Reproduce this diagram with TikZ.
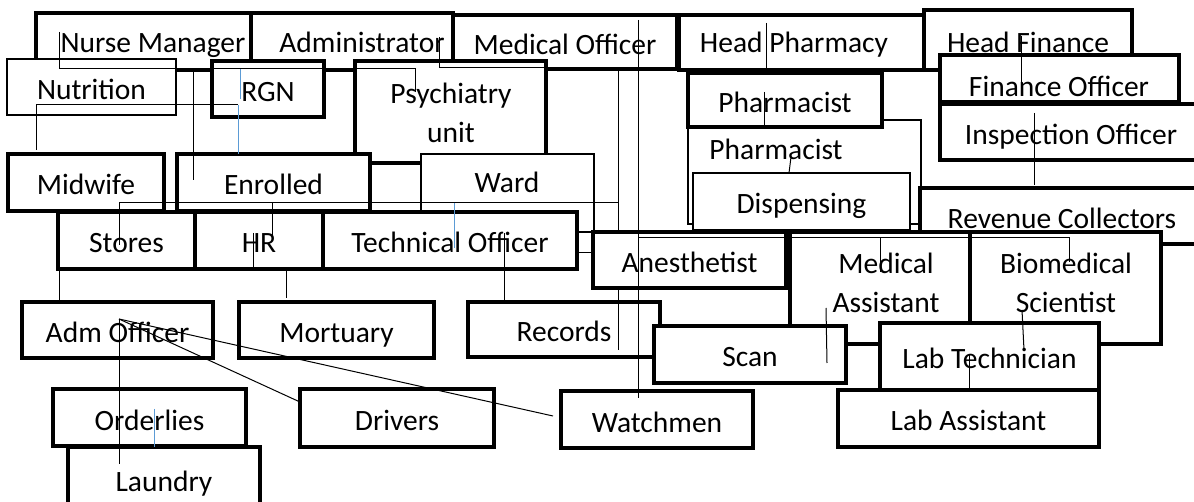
\documentclass[tikz,border=0pt]{standalone}
\usepackage{fontspec}
\setmainfont{Carlito}
\definecolor{wireblue}{RGB}{91,155,213}
\newcommand\chartfont{\fontsize{29.5}{39}\selectfont}
\tikzset{
  staff/.style={draw, fill=white, line width=4.5pt, inner sep=0pt, font=\chartfont},
  post/.style={staff, text height=25pt, text depth=0pt},
  thinpost/.style={post, line width=2pt},
  postlabel/.style={inner sep=0pt, font=\chartfont, text height=19pt, text depth=0pt},
  postpair/.style={inner sep=0pt, font=\chartfont, align=center},
  wire/.style={line width=1pt},
  bluewire/.style={wire, draw=wireblue},
}

\begin{document}
\begin{tikzpicture}[x=1pt, y=-1pt]
    \useasboundingbox (0,0) rectangle (1194,502);

    % Heads
    \node [post, minimum width=215pt, minimum height=57pt] (nurse) at (143.5,41.5) {};
    \node [postlabel] (nurse-t) at (153,43) {Nurse Manager};
    \node [post, minimum width=202pt, minimum height=57pt] (admin) at (352,41.5) {};
    \node [postlabel] (admin-t) at (362,43) {Administrator};
    \node [post, minimum width=224pt, minimum height=54pt] (medoff) at (565,42) {Medical Officer};
    \node [post, minimum width=245pt, minimum height=55pt] (headph) at (801.5,42.5) {};
    \node [postlabel] (headph-t) at (794,43) {Head Pharmacy};
    \node [post, minimum width=208pt, minimum height=60pt] (headfin) at (1028,40) {Head Finance};

    % Second row
    \node [thinpost, minimum width=169pt, minimum height=56pt] (nutr) at (91.5,87) {Nutrition};
    \node [post, minimum width=112pt, minimum height=56pt] (rgn) at (268,89) {RGN};
    \node [staff, minimum width=191pt, minimum height=102pt] (psych) at (450.5,112) {};
    \node [postpair] (psych-t) at (451,112.5) {Psychiatry\\unit};
    \node [thinpost, minimum width=233pt, minimum height=104pt] (pharmb) at (804.5,172) {};
    \node [postlabel] (pharmb-t) at (776,150) {Pharmacist};
    \node [post, minimum width=194pt, minimum height=54pt] (pharm) at (785,100) {Pharmacist};
    \node [post, minimum width=239pt, minimum height=47pt] (finoff) at (1059.5,78.5) {};
    \node [postlabel] (finoff-t) at (1059,87) {Finance Officer};
    \node [post, minimum width=262pt, minimum height=56pt] (inspect) at (1071,132) {Inspection Officer};
    \node [thinpost, minimum width=217pt, minimum height=57pt] (disp) at (801.5,201.5) {Dispensing};
    \node [post, minimum width=284pt, minimum height=56pt] (revenue) at (1062,216) {Revenue Collectors};

    % Third row
    \node [post, minimum width=156pt, minimum height=57pt] (midwife) at (86,182.5) {Midwife};
    \node [post, minimum width=193pt, minimum height=57pt] (enrolled) at (273.5,182.5) {Enrolled};
    \node [thinpost, minimum width=173pt, minimum height=78pt] (ward) at (507.5,193) {};
    \node [postlabel] (ward-t) at (507,183) {Ward};
    \node [post, minimum width=137pt, minimum height=57pt] (stores) at (126.5,240.5) {Stores};
    \node [post, minimum width=128pt, minimum height=57pt] (hr) at (259,240.5) {HR};
    \node [post, minimum width=254pt, minimum height=57pt] (techoff) at (450,240.5) {Technical Officer};

    % Fourth row
    \node [post, minimum width=191pt, minimum height=56pt] (admoff) at (117.5,330) {Adm Officer};
    \node [post, minimum width=195pt, minimum height=56pt] (mortuary) at (336.5,330) {Mortuary};
    \node [post, minimum width=192pt, minimum height=55pt] (records) at (564,329.5) {Records};

    % Administrator link (runs under Anesthetist)
    \coordinate (admin-o) at (439,37);
    \coordinate (admin-k) at (618,68);
    \coordinate (records-i) at (618,350);
    \coordinate (ward-k) at (618,203);
    \coordinate (stores-i) at (119,245);
    \draw [wire] (admin-o) |- (admin-k) -- (records-i);
    \draw [wire] (ward-k) -| (stores-i);

    \node [post, minimum width=193pt, minimum height=56pt] (anest) at (689.5,260) {Anesthetist};
    \node [staff, minimum width=180pt, minimum height=112pt] (medasst) at (880,288) {};
    \node [postpair] (medasst-t) at (886,283) {Medical\\Assistant};
    \node [staff, minimum width=191pt, minimum height=112pt] (biomed) at (1065.5,288) {};
    \node [postpair] (biomed-t) at (1066,283) {Biomedical\\Scientist};
    \node [post, minimum width=192pt, minimum height=57pt] (scan) at (750,354.5) {Scan};
    \node [post, minimum width=219pt, minimum height=67pt] (labtech) at (989.5,356.5) {Lab Technician};

    % Bottom row
    \node [post, minimum width=193pt, minimum height=57pt] (orderlies) at (149.5,417.5) {Orderlies};
    \node [post, minimum width=192pt, minimum height=63pt] (laundry) at (164,478.5) {Laundry};
    \node [post, minimum width=194pt, minimum height=58pt] (drivers) at (397,418) {Drivers};
    \node [post, minimum width=192pt, minimum height=57pt] (watchmen) at (657,419.5) {Watchmen};
    \node [post, minimum width=261pt, minimum height=57pt] (labasst) at (968.5,418.5) {Lab Assistant};

    % Links
    \coordinate (nurse-o) at (59,32);
    \coordinate (psych-k) at (415,69);
    \coordinate (psych-i) at (415,92);
    \draw [wire] (nurse-o) |- (psych-k) -- (psych-i);
    \coordinate (hr-k) at (272,203);
    \coordinate (hr-i) at (272,238);
    \draw [wire] (hr-k) -- (hr-i);
    \coordinate (hr-o) at (253,233);
    \coordinate (hr-p) at (253,267);
    \draw [wire] (hr-o) -- (hr-p);
    \coordinate (techoff-k) at (454,203);
    \coordinate (techoff-i) at (454,248);
    \draw [bluewire] (techoff-k) -- (techoff-i);
    \coordinate (nurse-d) at (193,72);
    \coordinate (enrolled-i) at (193,180);
    \draw [wire] (nurse-d) -- (enrolled-i);
    \coordinate (midwife-i) at (36,150);
    \coordinate (nutr-o) at (238,105);
    \coordinate (enrolled-t) at (238,154);
    \draw [wire] (midwife-i) |- (nutr-o);
    \draw [bluewire] (nutr-o) -- (enrolled-t);
    \coordinate (rgn-o) at (240,69);
    \coordinate (rgn-i) at (240,99);
    \draw [bluewire] (rgn-o) -- (rgn-i);
    \coordinate (stores-o) at (59,270);
    \coordinate (admoff-t) at (59,300);
    \draw [wire] (stores-o) -- (admoff-t);
    \coordinate (hr-d) at (286,270);
    \coordinate (mortuary-t) at (286,298);
    \draw [wire] (hr-d) -- (mortuary-t);
    \coordinate (techoff-o) at (504,233);
    \coordinate (records-t) at (504,300);
    \draw [wire] (techoff-o) -- (records-t);
    \coordinate (techoff-r) at (577,253);
    \coordinate (anest-l) at (593,253);
    \draw [wire] (techoff-r) -- (anest-l);
    \coordinate (admoff-o) at (119,319);
    \coordinate (laundry-i) at (119,464);
    \coordinate (drivers-l) at (300,402);
    \coordinate (watchmen-l) at (553,416);
    \draw [wire] (admoff-o) -- (laundry-i);
    \draw [wire] (admoff-o) -- (drivers-l);
    \draw [wire] (admoff-o) -- (watchmen-l);
    \coordinate (orderlies-o) at (154,409);
    \coordinate (laundry-t) at (154,447);
    \draw [bluewire] (orderlies-o) -- (laundry-t);
    \coordinate (medoff-o) at (638,20);
    \coordinate (watchmen-i) at (638,398);
    \draw [wire] (medoff-o) -- (watchmen-i);
    \coordinate (anest-k) at (638,238);
    \coordinate (biomed-i) at (1069,262);
    \draw [wire] (anest-k) -| (biomed-i);
    \coordinate (medasst-k) at (880,238);
    \coordinate (medasst-i) at (880,272);
    \draw [wire] (medasst-k) -- (medasst-i);
    \coordinate (medasst-o) at (826,308);
    \coordinate (scan-i) at (827,363);
    \draw [wire] (medasst-o) -- (scan-i);
    \coordinate (biomed-o) at (1022,310);
    \coordinate (labtech-i) at (1024,350);
    \draw [wire] (biomed-o) -- (labtech-i);
    \coordinate (labtech-o) at (969,355);
    \coordinate (labasst-t) at (969,388);
    \draw [wire] (labtech-o) -- (labasst-t);
    \coordinate (headph-o) at (766,23);
    \coordinate (headph-b) at (766,68);
    \draw [wire] (headph-o) -- (headph-b);
    \coordinate (pharm-o) at (764,92);
    \coordinate (pharm-b) at (764,127);
    \draw [wire] (pharm-o) -- (pharm-b);
    \coordinate (pharmb-o) at (791,157);
    \coordinate (disp-t) at (789,173);
    \draw [wire] (pharmb-o) -- (disp-t);
    \coordinate (headfin-o) at (1021,36);
    \coordinate (finoff-i) at (1021,95);
    \draw [wire] (headfin-o) -- (finoff-i);
    \coordinate (inspect-o) at (1034,113);
    \coordinate (revenue-t) at (1034,185);
    \draw [wire] (inspect-o) -- (revenue-t);
\end{tikzpicture}
\end{document}
